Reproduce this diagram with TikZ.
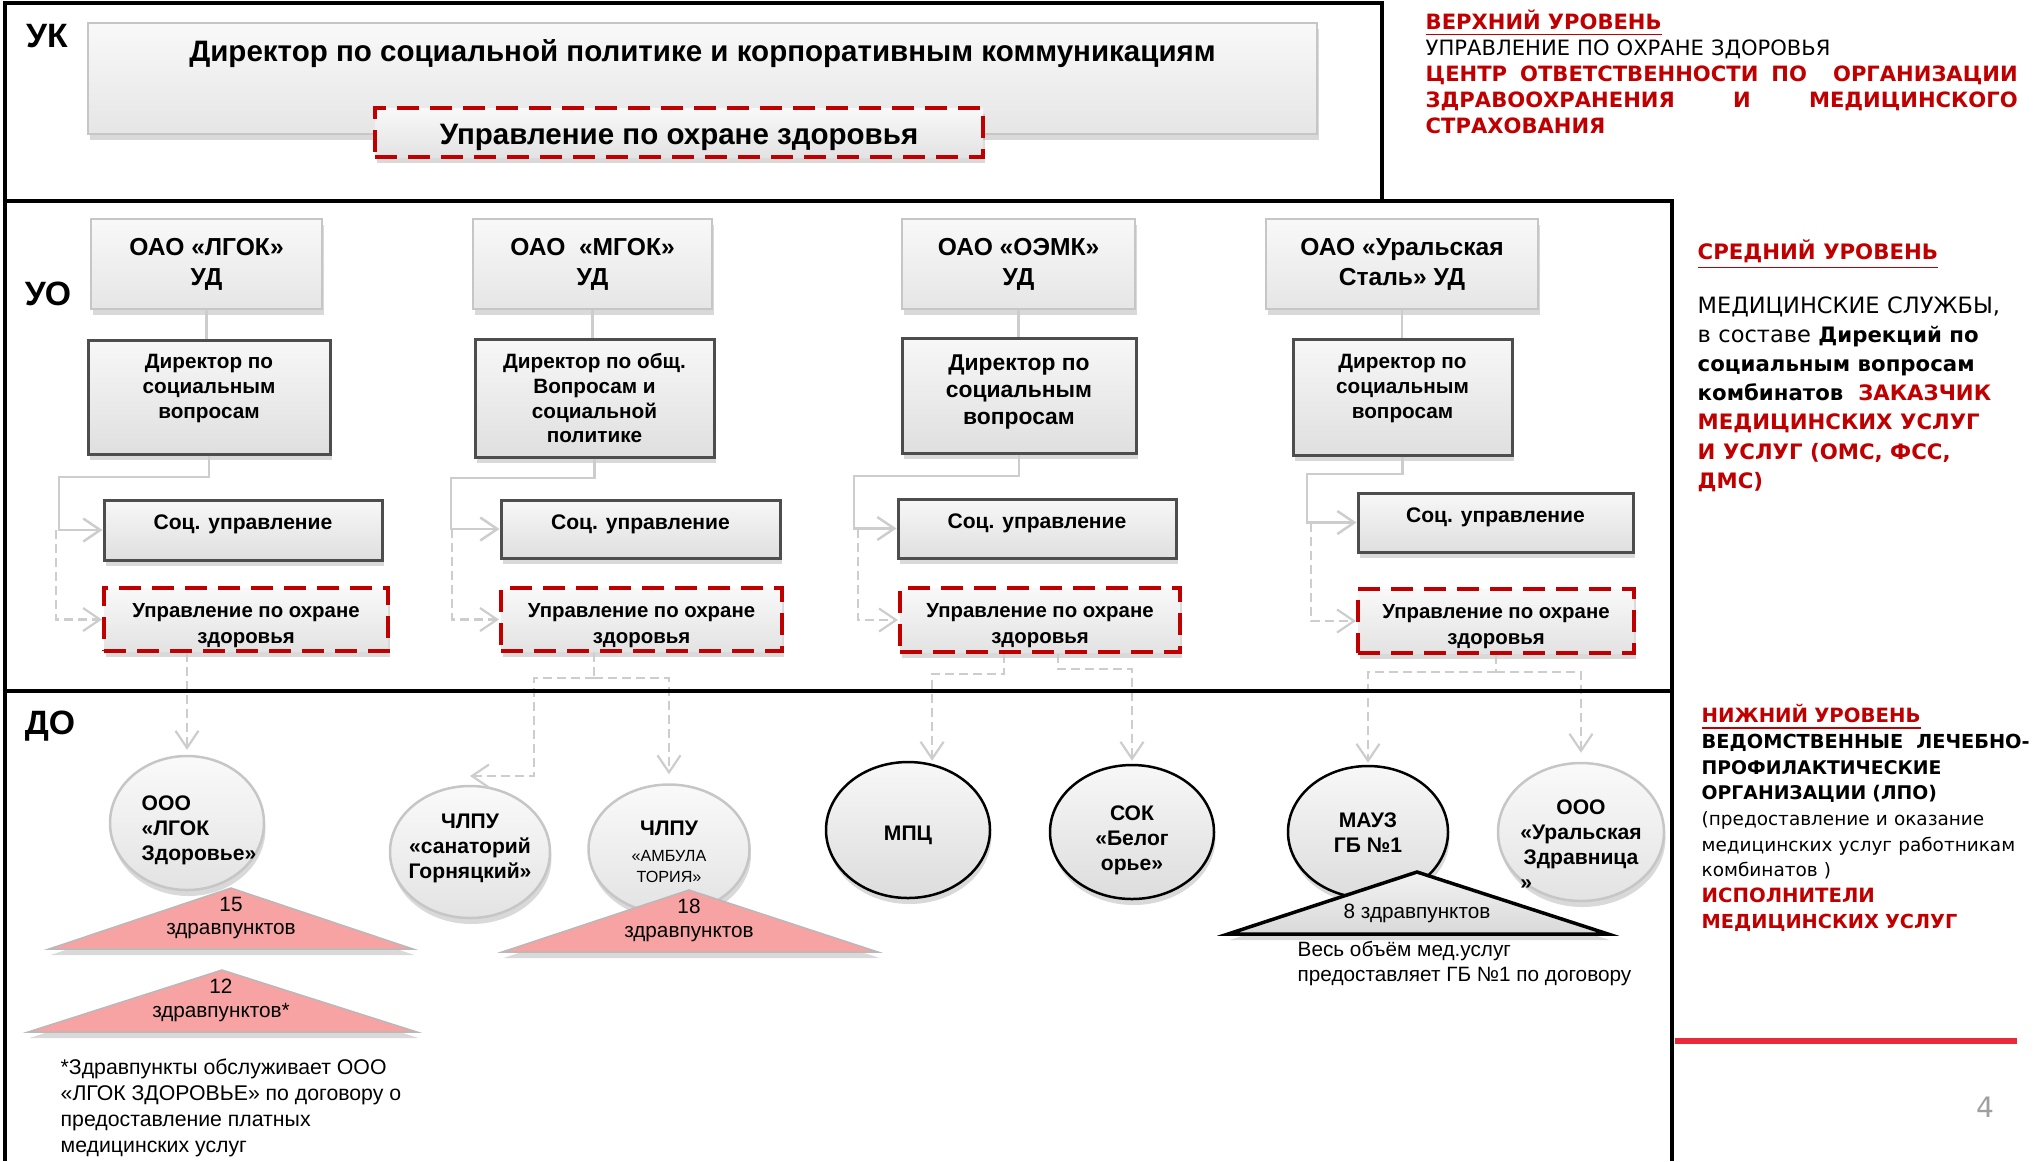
\documentclass[tikz,border=0pt]{standalone}
\usepackage{fontspec}
\setmainfont{Liberation Sans}
\newfontfamily\vfont{DejaVu Sans}
\usetikzlibrary{positioning,shapes.geometric,shadows,arrows.meta}

\definecolor{headred}{HTML}{C00000}
\definecolor{barred}{HTML}{EA2A3A}
\definecolor{pinkfill}{HTML}{F7A3A3}
\definecolor{linkgray}{HTML}{CDCDCD}
\definecolor{boxedge}{HTML}{4D4D4D}

\newcommand{\fsz}[2]{\fontsize{#1}{#2}\selectfont}

\tikzset{
    frameline/.style={line width=0.45mm},
    softshadow/.style={drop shadow={shadow xshift=0.15mm,shadow yshift=-0.6mm,opacity=0.3}},
    graybox/.style={rectangle, inner sep=0pt, align=center, softshadow},
    lightbox/.style={graybox, draw=gray!45, line width=0.2mm, top color=gray!5, bottom color=gray!20},
    darkbox/.style={graybox, draw=boxedge, line width=0.3mm, top color=gray!6, bottom color=gray!25},
    healthbox/.style={graybox, draw=headred, line width=0.4mm, dash pattern=on 2.2mm off 1.1mm, top color=gray!5, bottom color=gray!22},
    lightoval/.style={ellipse, inner sep=0pt, draw=gray!45, line width=0.25mm, top color=gray!4, bottom color=gray!22, softshadow},
    darkoval/.style={ellipse, inner sep=0pt, draw=black, line width=0.25mm, top color=gray!6, bottom color=gray!27, softshadow},
    dirtext/.style={align=center, font=\fsz{5.9}{7.1}\bfseries},
    healthtext/.style={align=center, font=\fsz{5.8}{7.4}\bfseries},
    ovaltext/.style={align=center, font=\fsz{6}{7.1}\bfseries},
    tritext/.style={align=center, font=\fsz{5.9}{6.8}, inner sep=0pt},
    pinktri/.style={fill=pinkfill, draw=gray!55, line width=0.15mm, softshadow},
    solidlink/.style={draw=linkgray, line width=0.25mm},
    dashlink/.style={draw=linkgray, line width=0.22mm, dash pattern=on 0.9mm off 0.5mm},
    arr/.style={-{Straight Barb[length=1.7mm,width=2.3mm]}},
    levellabel/.style={font=\fsz{9.6}{11}\bfseries, inner sep=0pt},
    sidenote/.style={anchor=north west, inner sep=0pt, align=left}
}

\begin{document}
\begin{tikzpicture}[x=0.1mm,y=-0.1mm]
    \useasboundingbox (0,0) rectangle (2036,1161);

    % УК
    \node[levellabel] (uklbl) at (47,36) {УК};
    \node[lightbox, minimum width=122.9mm, minimum height=11.1mm, text height=3.85mm, text depth=7.25mm,
        font=\fsz{8.4}{10}\bfseries] (ukdir) at (702.5,78.5)
        {Директор по социальной политике и корпоративным коммуникациям};
    \node[healthbox, minimum width=60.8mm, minimum height=4.9mm, text height=3.64mm, text depth=1.26mm,
        font=\fsz{8.4}{10}\bfseries] (ukhealth) at (679,132.5) {Управление по охране здоровья};

    % УО
    \node[levellabel] (uolbl) at (48,294) {УО};
    \node[lightbox, minimum width=23.1mm, minimum height=9mm, font=\fsz{7}{8.6}\bfseries]
        (t1) at (206.5,264) {ОАО «ЛГОК»\\УД};
    \node[lightbox, minimum width=23.9mm, minimum height=9mm, font=\fsz{7}{8.6}\bfseries]
        (t2) at (592.5,264) {ОАО \ «МГОК»\\УД};
    \node[lightbox, minimum width=23.3mm, minimum height=9mm, font=\fsz{7}{8.6}\bfseries]
        (t3) at (1018.5,264) {ОАО «ОЭМК»\\УД};
    \node[lightbox, minimum width=27.2mm, minimum height=9mm, font=\fsz{7}{8.6}\bfseries]
        (t4) at (1402,264) {ОАО «Уральская\\Сталь» УД};

    \node[darkbox, minimum width=24.2mm, minimum height=11.4mm,
        label={[dirtext,yshift=0.85mm]center:{Директор по\\социальным\\вопросам}}] (d1) at (209,397) {};
    \node[darkbox, minimum width=23.9mm, minimum height=11.8mm,
        label={[dirtext]center:{Директор по общ.\\Вопросам и\\социальной\\политике}}] (d2) at (594.5,398) {};
    \node[darkbox, minimum width=23.4mm, minimum height=11.5mm,
        label={[dirtext,font=\fsz{6.5}{7.7}\bfseries,yshift=0.35mm]center:{Директор по\\социальным\\вопросам}}] (d3) at (1019,395.5) {};
    \node[darkbox, minimum width=21.9mm, minimum height=11.6mm,
        label={[dirtext,yshift=0.85mm]center:{Директор по\\социальным\\вопросам}}] (d4) at (1402.5,397) {};

    \node[darkbox, minimum width=27.8mm, minimum height=6mm, text height=2.9mm, text depth=3.1mm,
        font=\fsz{6}{7}\bfseries] (s1) at (243,530) {Соц. управление};
    \node[darkbox, minimum width=27.9mm, minimum height=5.8mm, text height=2.9mm, text depth=2.9mm,
        font=\fsz{6}{7}\bfseries] (s2) at (640.5,529) {Соц. управление};
    \node[darkbox, minimum width=27.8mm, minimum height=5.9mm, text height=2.9mm, text depth=3mm,
        font=\fsz{6}{7}\bfseries] (s3) at (1037,528.5) {Соц. управление};
    \node[darkbox, minimum width=27.5mm, minimum height=5.9mm, text height=2.9mm, text depth=3mm,
        font=\fsz{6}{7}\bfseries] (s4) at (1495.5,522.5) {Соц. управление};

    \node[healthbox, minimum width=28.4mm, minimum height=6.3mm,
        label={[healthtext,yshift=-0.6mm]center:{Управление по охране\\здоровья}}] (r1) at (246,619.5) {};
    \node[healthbox, minimum width=28.1mm, minimum height=6.3mm,
        label={[healthtext,yshift=-0.6mm]center:{Управление по охране\\здоровья}}] (r2) at (641.5,619.5) {};
    \node[healthbox, minimum width=28mm, minimum height=6.4mm,
        label={[healthtext,yshift=-0.6mm]center:{Управление по охране\\здоровья}}] (r3) at (1040,620) {};
    \node[healthbox, minimum width=27.6mm, minimum height=6.4mm,
        label={[healthtext,yshift=-0.6mm]center:{Управление по охране\\здоровья}}] (r4) at (1496,621) {};

    \coordinate (e1) at (59,477);   \coordinate (f1) at (56,530);
    \coordinate (e2) at (451,478);  \coordinate (f2) at (452,529);
    \coordinate (e3) at (854,476);  \coordinate (f3) at (858,529);
    \coordinate (e4) at (1307,474); \coordinate (f4) at (1311,523);
    \foreach \i in {1,...,4}
        \draw[solidlink] (t\i.south) -- (t\i.south |- d\i.north);
    \foreach \i in {1,...,4}
        \draw[solidlink, arr] (d\i.south) |- (e\i) |- (s\i.west);
    \foreach \i in {1,...,4}
        \draw[dashlink, arr] (f\i) |- (r\i.west);

    % ДО
    \node[levellabel] (dolbl) at (50,726) {ДО};
    \node[lightoval, minimum width=15.4mm, minimum height=13.4mm,
        label={[ovaltext,align=left,xshift=1.2mm,yshift=-0.7mm]center:{ООО\\«ЛГОК\\Здоровье»}}] (o1) at (187,823) {};
    \node[lightoval, minimum width=16mm, minimum height=13.2mm,
        label={[ovaltext,yshift=0.4mm]center:{ЧЛПУ\\«санаторий\\Горняцкий»}}] (o2) at (470,852) {};
    \node[lightoval, minimum width=16.1mm, minimum height=12.9mm,
        label={[ovaltext,yshift=-0.3mm]center:{ЧЛПУ\\[0.3pt]{\fsz{4.6}{5.5}\mdseries «АМБУЛА}\\[-1.2pt]{\fsz{4.6}{5.5}\mdseries ТОРИЯ»}}}] (o3) at (669,849) {};
    \node[darkoval, minimum width=16.4mm, minimum height=13.6mm,
        label={[ovaltext,yshift=-0.5mm]center:МПЦ}] (o4) at (908,830) {};
    \node[darkoval, minimum width=16.4mm, minimum height=13.4mm,
        label={[ovaltext,yshift=-0.8mm]center:{СОК\\«Белог\\орье»}}] (o5) at (1132,832) {};
    \node[darkoval, minimum width=16mm, minimum height=13.2mm,
        label={[ovaltext,yshift=-0.1mm]center:{МАУЗ\\ГБ №1}}] (o6) at (1368,832) {};
    \node[lightoval, minimum width=16.6mm, minimum height=13.8mm,
        label={[ovaltext,yshift=-1.3mm]center:{ООО\\«Уральская\\Здравница\\\rlap{»}\hphantom{«Уральская}}}] (o7) at (1581,832) {};

    \path[pinktri] (231,888) -- (413,949) -- (49,949) -- cycle;
    \node[tritext] (n15) at (231,918) {15\\здравпунктов};
    \path[pinktri] (222,970) -- (417,1032) -- (28,1032) -- cycle;
    \node[tritext] (n12) at (221,1000) {12\\здравпунктов*};
    \path[pinktri] (689,890) -- (878,952) -- (502,952) -- cycle;
    \node[tritext] (n18) at (689,920) {18\\здравпунктов};
    \path[draw=black, line width=0.35mm, top color=gray!10, bottom color=gray!30, softshadow]
        (1417,872) -- (1608,934) -- (1228,934) -- cycle;
    \node[tritext] (n8) at (1417,913) {8 здравпунктов};

    \node[sidenote, font=\fsz{6.05}{7.4}] (footnote) at (60,1058)
        {*Здравпункты обслуживает ООО\\«ЛГОК ЗДОРОВЬЕ» по договору о\\предоставление платных\\медицинских услуг};
    \node[sidenote, font=\fsz{5.9}{7.1}] (gbnote) at (1297,941)
        {Весь объём мед.услуг\\предоставляет ГБ №1 по договору};

    \draw[dashlink, arr, shorten >=0.5mm] (r1.south -| o1.north) -- (o1.north);
    \coordinate (b2) at (594,678);
    \coordinate (b2l) at (534,776);
    \draw[dashlink] (r2.south -| b2) -- (b2);
    \draw[dashlink, arr] (b2) -| (b2l) -- (b2l -| o2.north);
    \draw[dashlink, arr, shorten >=0.9mm] (b2) -| (o3.north);
    \coordinate (b3l) at (1004,674);
    \coordinate (b3r) at (1058,669);
    \draw[dashlink, arr, shorten >=0.3mm] (r3.south -| b3l) -- (b3l) -| (o4.70);
    \draw[dashlink, arr, shorten >=0.3mm] (r3.south -| b3r) -- (b3r) -| (o5.north);
    \coordinate (b4) at (1496,672);
    \draw[dashlink] (r4.south) -- (b4);
    \draw[dashlink, arr, shorten >=0.2mm] (b4) -| (o6.north);
    \draw[dashlink, arr, shorten >=0.9mm] (b4) -| (o7.north);

    % frames
    \draw[frameline] (5,1161) -- (5,3) -- (1382,3) -- (1382,201);
    \draw[frameline] (5,201) -- (1672,201) -- (1672,1161);
    \draw[frameline] (5,691) -- (1672,691);

    % side notes
    \node[sidenote, text width=59.2mm, font=\vfont\fsz{6}{7.4}] (topnote) at (1425,9) {%
        \textcolor{headred}{\bfseries\underline{ВЕРХНИЙ УРОВЕНЬ}}\\
        УПРАВЛЕНИЕ ПО ОХРАНЕ ЗДОРОВЬЯ\\
        \textcolor{headred}{\bfseries\makebox[59.2mm]{ЦЕНТР\hfill ОТВЕТСТВЕННОСТИ\hfill ПО\hfill\hfill ОРГАНИЗАЦИИ}}\\
        \textcolor{headred}{\bfseries\makebox[59.2mm]{ЗДРАВООХРАНЕНИЯ\hfill И\hfill МЕДИЦИНСКОГО}}\\
        \textcolor{headred}{\bfseries СТРАХОВАНИЯ}};
    \node[sidenote, text width=36mm, font=\vfont\fsz{6.4}{8.3}] (midnote) at (1697,239) {%
        \textcolor{headred}{\fsz{6.05}{8.3}\bfseries\underline{СРЕДНИЙ УРОВЕНЬ}}\\[7pt]
        МЕДИЦИНСКИЕ СЛУЖБЫ,\\
        в составе {\fsz{6.05}{8.3}\bfseries Дирекций по}\\
        {\fsz{6.05}{8.3}\bfseries социальным вопросам}\\
        {\fsz{6.05}{8.3}\bfseries комбинатов\ \ \textcolor{headred}{ЗАКАЗЧИК}}\\
        \textcolor{headred}{\fsz{6.05}{8.3}\bfseries МЕДИЦИНСКИХ УСЛУГ}\\
        \textcolor{headred}{\fsz{6.05}{8.3}\bfseries И УСЛУГ (ОМС, ФСС,}\\
        \textcolor{headred}{\fsz{6.05}{8.3}\bfseries ДМС)}};
    \node[sidenote, text width=34mm, font=\vfont\fsz{5.25}{7.3}] (lownote) at (1701,704) {%
        \textcolor{headred}{\fsz{5.6}{7.3}\bfseries\underline{НИЖНИЙ УРОВЕНЬ}}\\
        {\fsz{5.5}{7.3}\bfseries\makebox[32.8mm]{ВЕДОМСТВЕННЫЕ\hfill ЛЕЧЕБНО-}}\\
        {\fsz{5.35}{7.3}\bfseries ПРОФИЛАКТИЧЕСКИЕ}\\
        {\fsz{5.35}{7.3}\bfseries ОРГАНИЗАЦИИ (ЛПО)}\\
        (предоставление и оказание\\
        медицинских услуг работникам\\
        комбинатов )\\
        \textcolor{headred}{\fsz{5.6}{7.3}\bfseries ИСПОЛНИТЕЛИ}\\
        \textcolor{headred}{\fsz{5.5}{7.3}\bfseries МЕДИЦИНСКИХ УСЛУГ}};

    \draw[barred, line width=0.6mm] (1675,1041) -- (2017,1041);
    \node[text=gray!75, font=\vfont\fsz{8}{9}] (pagenum) at (1985,1107) {4};
\end{tikzpicture}
\end{document}
